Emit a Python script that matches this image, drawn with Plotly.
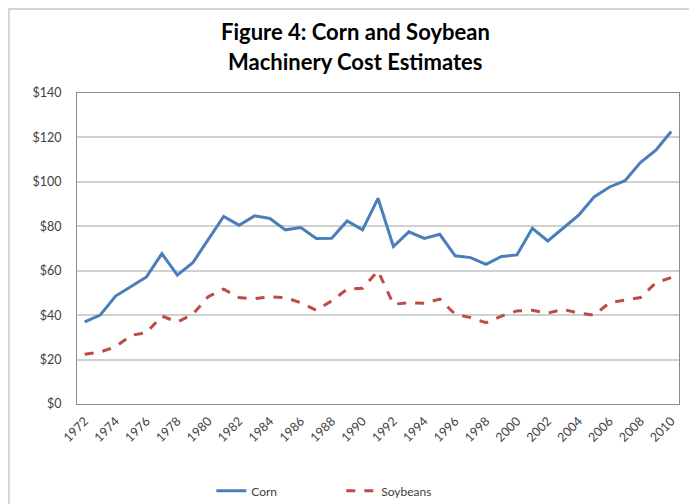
import plotly.graph_objects as go

years = [str(y) for y in range(1972, 2011)]
corn = [37, 40, 48.6, 52.8, 57.2, 67.7, 58, 63.6, 74, 84.4, 80.5, 84.7, 83.5,
        78.4, 79.4, 74.5, 74.6, 82.4, 78.4, 92.6, 70.9, 77.5, 74.5, 76.4, 66.7,
        65.9, 62.9, 66.4, 67.1, 79.1, 73.4, 79.1, 85, 93.2, 97.7, 100.5, 108.7,
        114.3, 122.7]
soy = [22.4, 23.4, 25.8, 30.9, 32.1, 39.6, 36.9, 40.4, 48.3, 51.7, 47.9, 47.4,
       48.3, 47.9, 45.6, 42.2, 46.4, 51.7, 52.1, 59.9, 44.9, 45.6, 45.3, 47.2,
       40.4, 38.9, 36.6, 39.6, 41.9, 42.2, 40.9, 42.6, 40.9, 40, 45.6, 46.7,
       47.9, 54.6, 56.9]
tick_years = [str(y) for y in range(1972, 2011, 2)]
y_ticks = [0, 20, 40, 60, 80, 100, 120, 140]
y_labels = ["$" + str(v) for v in y_ticks]
title_lines = ["Figure 4: Corn and Soybean", "Machinery Cost Estimates"]

fig = go.Figure()
fig.add_trace(go.Scatter(x=years, y=corn, mode="lines", name="Corn",
                         line=dict(color="#4a7ebb", width=3)))
fig.add_trace(go.Scatter(x=years, y=soy, mode="lines", name="Soybeans",
                         line=dict(color="#be4b48", width=3, dash="dash")))

fig.update_layout(
    width=697, height=504,
    margin=dict(l=69, r=26, t=85, b=108, autoexpand=False),
    paper_bgcolor="white", plot_bgcolor="white",
    font=dict(family="Lato", color="#404040", size=11),
    showlegend=True,
    legend=dict(orientation="h", x=0.439, xanchor="center",
                yref="container", y=0.042, yanchor="middle",
                font=dict(family="Lato", size=12, color="#404040"), itemwidth=30,
                entrywidth=85, entrywidthmode="pixels"),
    shapes=[dict(type="rect", xref="paper", yref="paper",
                 x0=-0.113, x1=1.05, y0=-0.4, y1=1.27,
                 line=dict(color="#c8c8c8", width=1.5), layer="below")],
    annotations=[
        dict(text="<b>" + title_lines[0] + "</b>", xref="paper", yref="paper",
             x=0.462, y=1.197, xanchor="center", yanchor="middle", showarrow=False,
             font=dict(family="Lato", size=22, color="#000000")),
        dict(text="<b>" + title_lines[1] + "</b>", xref="paper", yref="paper",
             x=0.462, y=1.1, xanchor="center", yanchor="middle", showarrow=False,
             font=dict(family="Lato", size=22, color="#000000")),
    ],
)
fig.update_xaxes(type="category", tickmode="array", tickvals=tick_years,
                 ticktext=tick_years, tickangle=-45, showgrid=False,
                 range=[-0.5, len(years) - 0.5], automargin=False,
                 showline=True, linecolor="#8c8c8c", mirror=True,
                 tickfont=dict(size=12.5, color="#404040"), ticks="",
                 ticklabelstandoff=4)
fig.update_yaxes(range=[0, 140], tickvals=y_ticks, ticktext=y_labels,
                 showgrid=True, gridcolor="#d0d0d0", gridwidth=1.5, automargin=False,
                 showline=True, linecolor="#8c8c8c", mirror=True, zeroline=False,
                 tickfont=dict(size=12.5, color="#404040"), ticks="",
                 ticklabelstandoff=12)

fig.write_html("out.html")
